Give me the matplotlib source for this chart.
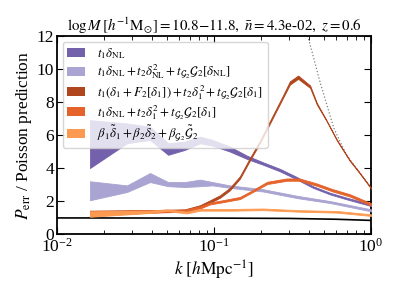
import numpy as np
import matplotlib
matplotlib.use("Agg")
import matplotlib.pyplot as plt
from matplotlib.patches import Patch

plt.rcParams["font.family"] = ["Liberation Serif", "DejaVu Serif"]
plt.rcParams["mathtext.fontset"] = "stix"

# t1 delta_NL (dark purple band)
k_nl = [0.0162, 0.0279, 0.0391, 0.051, 0.0652, 0.0814, 0.098, 0.126, 0.162, 0.205, 0.263, 0.338, 0.427, 0.549, 0.703, 1.0]
nl_hi = [6.9, 6.7, 6.5, 5.5, 5.6, 5.9, 5.7, 5.3, 4.75, 4.35, 3.95, 3.45, 2.9, 2.5, 2.2, 1.8]
nl_lo = [4.0, 5.5, 5.7, 4.8, 5.1, 5.5, 5.35, 5.0, 4.55, 4.2, 3.8, 3.3, 2.8, 2.4, 2.1, 1.7]

# t1 delta_NL + t2 delta_NL^2 + tG2 G2[delta_NL] (light purple band)
k_nl2 = [0.0162, 0.0279, 0.0391, 0.051, 0.0652, 0.0814, 0.098, 0.126, 0.205, 0.338, 0.549, 1.0]
nl2_hi = [3.2, 2.95, 3.7, 3.15, 3.15, 3.3, 3.15, 2.95, 2.72, 2.32, 2.0, 1.5]
nl2_lo = [2.05, 2.55, 3.15, 2.9, 2.85, 2.9, 2.95, 2.8, 2.58, 2.18, 1.88, 1.38]

# t1(delta1 + F2[delta1]) + ... (brown band)
k_f2 = [0.0162, 0.0391, 0.0652, 0.0814, 0.0944, 0.109, 0.126, 0.146, 0.169, 0.197, 0.237, 0.275, 0.304, 0.343, 0.409, 0.451, 0.52, 0.607, 0.73, 0.85, 1.0]
f2_hi = [1.42, 1.45, 1.5, 1.75, 2.05, 2.35, 2.8, 3.5, 4.6, 5.7, 7.2, 8.4, 9.25, 9.6, 9.0, 7.95, 6.9, 5.7, 4.5, 3.7, 2.8]
f2_lo = [1.12, 1.3, 1.38, 1.6, 1.9, 2.2, 2.65, 3.35, 4.45, 5.55, 7.05, 8.25, 9.05, 9.4, 8.85, 7.85, 6.85, 5.65, 4.45, 3.65, 2.75]

# t1 delta_NL + t2 delta1^2 + tG2 G2[delta1] (orange band)
k_mix = [0.0162, 0.0391, 0.0652, 0.0814, 0.0944, 0.109, 0.146, 0.169, 0.218, 0.29, 0.35, 0.45, 0.57, 0.73, 1.0]
mix_hi = [1.4, 1.45, 1.48, 1.68, 1.92, 2.02, 2.25, 2.57, 3.17, 3.37, 3.37, 3.07, 2.72, 2.42, 1.87]
mix_lo = [1.12, 1.3, 1.35, 1.55, 1.8, 1.9, 2.12, 2.45, 3.03, 3.23, 3.23, 2.93, 2.58, 2.28, 1.73]

# beta1 delta1 + beta2 delta2 + betaG2 G2 (light orange band)
k_beta = [0.0162, 0.0391, 0.050, 0.067, 0.0814, 0.126, 0.205, 0.343, 0.607, 1.0]
beta_hi = [1.38, 1.42, 1.5, 1.36, 1.52, 1.52, 1.55, 1.45, 1.4, 1.2]
beta_lo = [1.05, 1.28, 1.4, 1.25, 1.42, 1.42, 1.45, 1.36, 1.3, 1.1]

# Poisson reference and analytic (dotted) curve
k_ref = [0.01, 0.1, 0.3, 0.6, 1.0]
ref = [0.98, 0.97, 0.95, 0.9, 0.83]
k_dot = [0.39, 0.43, 0.47, 0.52, 0.58, 0.7, 0.85, 1.0]
dot = [12.2, 10.7, 9.3, 7.9, 6.4, 4.75, 3.7, 2.8]

labels = [
    r"$t_1\delta_{\rm NL}$",
    r"$t_1\delta_{\rm NL}+t_2\delta^2_{\rm NL}+t_{\mathcal{G}_2}\mathcal{G}_2[\delta_{\rm NL}]$",
    r"$t_1(\delta_1+F_2[\delta_1])+t_2\delta_1^2+t_{\mathcal{G}_2}\mathcal{G}_2[\delta_1]$",
    r"$t_1\delta_{\rm NL}+t_2\delta_1^2+t_{\mathcal{G}_2}\mathcal{G}_2[\delta_1]$",
    r"$\beta_1\tilde{\delta}_1+\beta_2\tilde{\delta}_2+\beta_{\mathcal{G}_2}\tilde{\mathcal{G}}_2$",
]
colors = ["#7461ac", "#a9a4d1", "#b0461e", "#e5632a", "#fc9a52"]

fig = plt.figure(figsize=(3.99, 2.99), dpi=100)
ax = fig.add_axes([0.143, 0.217, 0.787, 0.663])

ax.plot(k_dot, dot, ":", color="gray", lw=0.9, zorder=1)
ax.plot(k_ref, ref, "-", color="black", lw=1.2, zorder=2)

bands = [(k_nl, nl_lo, nl_hi), (k_nl2, nl2_lo, nl2_hi), (k_f2, f2_lo, f2_hi),
         (k_mix, mix_lo, mix_hi), (k_beta, beta_lo, beta_hi)]
for (kk, lo, hi), c in zip(bands, colors):
    ax.fill_between(kk, lo, hi, color=c, lw=0.6, edgecolor=c, zorder=3)

ax.set_xscale("log")
ax.set_xlim(1e-2, 1.0)
ax.set_ylim(0, 12)
ax.set_yticks(range(0, 13, 2))
ax.tick_params(which="both", direction="in", top=True, right=True, labelsize=12.5)
ax.tick_params(which="major", length=5, pad=2)
ax.tick_params(axis="x", which="major", pad=3)
ax.tick_params(which="minor", length=3)
for s in ax.spines.values():
    s.set_linewidth(1.3)

ax.set_xlabel(r"$k\ [h{\rm Mpc}^{-1}]$", fontsize=12.5, labelpad=2)
ax.set_ylabel(r"$P_{\rm err}$ / Poisson prediction", fontsize=12.5, labelpad=2)
ax.set_title(r"$\log M\,[h^{-1}{\rm M}_{\odot}]=10.8{-}11.8,\ \bar{n}=4.3$e-02$,\ z=0.6$",
             fontsize=10.8, pad=3)

handles = [Patch(facecolor=c, edgecolor="none") for c in colors]
ax.legend(handles, labels, loc="upper left", fontsize=9.3, handlelength=1.4,
          handletextpad=0.9, labelspacing=0.12, framealpha=0.8, fancybox=True,
          borderaxespad=0.45, borderpad=0.35)

fig.savefig("out.png", dpi=100)
